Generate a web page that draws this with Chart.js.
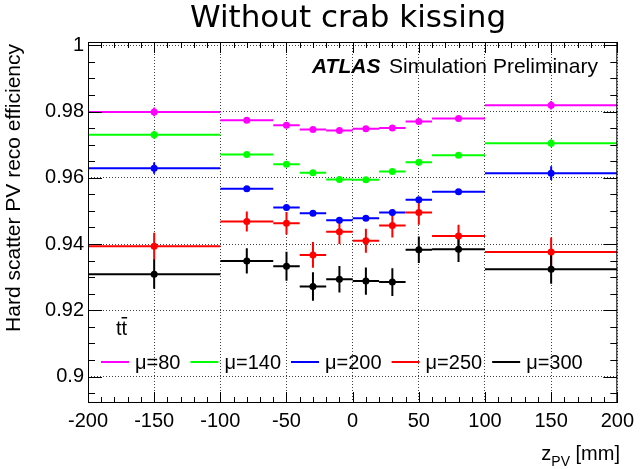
<!DOCTYPE html>
<html lang="en">
<head>
  <meta charset="UTF-8" />
  <title>Without crab kissing</title>
  <script src="https://cdn.jsdelivr.net/npm/chart.js"></script>
  <style>
    body { margin: 0; background: #fff; }
    #wrap { width: 640px; height: 469px; }
  </style>
</head>
<body>
  <div id="wrap"><canvas id="effChart" width="640" height="469"></canvas></div>
  <script>
    // bins in z_PV [mm]
    const binEdges = [-200, -100, -60, -40, -20, 0, 20, 40, 60, 100, 200];
    const binCenters = [-150, -80, -50, -30, -10, 10, 30, 50, 80, 150];

    const mu80 = [0.9799, 0.9774, 0.9759, 0.9746, 0.9743, 0.9748, 0.9750, 0.9770, 0.9779, 0.9819];
    const mu80Err = [0.0013, 0.0005, 0.0005, 0.0005, 0.0005, 0.0005, 0.0005, 0.0005, 0.0005, 0.0013];
    const mu140 = [0.9730, 0.9670, 0.9641, 0.9615, 0.9595, 0.9594, 0.9619, 0.9647, 0.9668, 0.9704];
    const mu140Err = [0.0012, 0.0006, 0.0006, 0.0006, 0.0006, 0.0006, 0.0006, 0.0006, 0.0006, 0.0012];
    const mu200 = [0.9629, 0.9567, 0.9510, 0.9493, 0.9472, 0.9478, 0.9495, 0.9534, 0.9558, 0.9614];
    const mu200Err = [0.0017, 0.0008, 0.0008, 0.0008, 0.0008, 0.0008, 0.0008, 0.0008, 0.0008, 0.0021];
    const mu250 = [0.9393, 0.9468, 0.9463, 0.9367, 0.9437, 0.9410, 0.9456, 0.9495, 0.9424, 0.9376];
    const mu250Err = [0.0041, 0.0030, 0.0034, 0.0039, 0.0037, 0.0036, 0.0036, 0.0037, 0.0034, 0.0044];
    const mu300 = [0.9309, 0.9349, 0.9333, 0.9272, 0.9294, 0.9288, 0.9285, 0.9383, 0.9384, 0.9324];
    const mu300Err = [0.0044, 0.0038, 0.0044, 0.0043, 0.0040, 0.0041, 0.0042, 0.0040, 0.0038, 0.0044];

    const seriesLabels = ["\u03bc=80", "\u03bc=140", "\u03bc=200", "\u03bc=250", "\u03bc=300"];
    const seriesColors = ["#ff00ff", "#00ff00", "#0000ff", "#ff0000", "#000000"];
    const seriesValues = [mu80, mu140, mu200, mu250, mu300];
    const seriesErrors = [mu80Err, mu140Err, mu200Err, mu250Err, mu300Err];

    const xTicks = [-200, -150, -100, -50, 0, 50, 100, 150, 200];
    const yTicks = [0.9, 0.92, 0.94, 0.96, 0.98, 1.0];
    const yTickLabels = ["0.9", "0.92", "0.94", "0.96", "0.98", "1"];

    const FONT = "'Liberation Sans', Arial, sans-serif";

    const datasets = seriesValues.map((vals, i) => ({
      label: seriesLabels[i],
      data: binCenters.map((x, j) => ({ x: x, y: vals[j] })),
      errY: seriesErrors[i],
      backgroundColor: seriesColors[i],
      borderColor: seriesColors[i],
      pointRadius: 3.5,
      pointBorderWidth: 0,
      showLine: false
    }));

    // error bars: horizontal = bin width, vertical = stat error
    const errorBars = {
      id: "errorBars",
      beforeDatasetsDraw(chart) {
        const ctx = chart.ctx, xs = chart.scales.x, ys = chart.scales.y;
        ctx.save();
        ctx.lineWidth = 2;
        chart.data.datasets.forEach(ds => {
          ctx.strokeStyle = ds.borderColor;
          ds.data.forEach((p, j) => {
            const py = ys.getPixelForValue(p.y);
            const px = xs.getPixelForValue(p.x);
            ctx.beginPath();
            ctx.moveTo(xs.getPixelForValue(binEdges[j]), py);
            ctx.lineTo(xs.getPixelForValue(binEdges[j + 1]), py);
            ctx.moveTo(px, ys.getPixelForValue(p.y - ds.errY[j]));
            ctx.lineTo(px, ys.getPixelForValue(p.y + ds.errY[j]));
            ctx.stroke();
          });
        });
        ctx.restore();
      }
    };

    // ROOT style frame, inner ticks and the text
    const decorations = {
      id: "decorations",
      afterDraw(chart) {
        const ctx = chart.ctx, a = chart.chartArea;
        const xs = chart.scales.x, ys = chart.scales.y;
        ctx.save();
        ctx.strokeStyle = "#000";
        ctx.lineWidth = 1;
        ctx.strokeRect(a.left + 0.5, a.top + 0.5, a.right - a.left - 1, a.bottom - a.top - 1);

        ctx.beginPath();
        for (let v = -200; v <= 200; v += 10) {
          const px = Math.round(xs.getPixelForValue(v)) + 0.5;
          const len = v % 50 === 0 ? 11 : 6;
          ctx.moveTo(px, a.bottom); ctx.lineTo(px, a.bottom - len);
          ctx.moveTo(px, a.top); ctx.lineTo(px, a.top + len);
        }
        for (let k = 179; k <= 200; k++) {
          const v = k * 0.005;
          if (v < ys.min || v > ys.max) continue;
          const py = Math.round(ys.getPixelForValue(v)) + 0.5;
          const len = k % 4 === 0 ? 14 : 7;
          ctx.moveTo(a.left, py); ctx.lineTo(a.left + len, py);
          ctx.moveTo(a.right, py); ctx.lineTo(a.right - len, py);
        }
        ctx.stroke();

        ctx.fillStyle = "#000";
        // title
        ctx.font = "31px 'DejaVu Sans', sans-serif";
        ctx.textAlign = "center";
        ctx.textBaseline = "alphabetic";
        ctx.fillText("Without crab kissing", 348, 27);

        // ATLAS label
        ctx.textAlign = "left";
        ctx.font = "italic bold 21px " + FONT;
        ctx.fillText("ATLAS", 312, 73);
        ctx.font = "21px " + FONT;
        ctx.fillText("Simulation Preliminary", 389, 73);

        // process label t tbar
        ctx.font = "20px " + FONT;
        ctx.fillText("tt", 116, 335);
        const tw = ctx.measureText("t").width;
        ctx.fillRect(116 + tw, 317, tw, 1.5);

        // legend
        let lx = 101;
        const ly = 362;
        seriesLabels.forEach((lab, i) => {
          ctx.strokeStyle = seriesColors[i];
          ctx.lineWidth = 2;
          ctx.beginPath();
          ctx.moveTo(lx, ly); ctx.lineTo(lx + 28, ly);
          ctx.stroke();
          ctx.fillStyle = "#000";
          ctx.fillText(lab, lx + 34, 369);
          lx += 34 + ctx.measureText(lab).width + 10;
        });

        // axis titles
        ctx.font = "20px " + FONT;
        ctx.textAlign = "right";
        const tail = " [mm]";
        const tailW = ctx.measureText(tail).width;
        ctx.fillText(tail, 620, 460);
        ctx.font = "14px " + FONT;
        const subW = ctx.measureText("PV").width;
        ctx.fillText("PV", 620 - tailW, 466);
        ctx.font = "20px " + FONT;
        ctx.fillText("z", 620 - tailW - subW, 460);

        ctx.translate(20, 44);
        ctx.rotate(-Math.PI / 2);
        ctx.textAlign = "right";
        ctx.font = "21px " + FONT;
        ctx.fillText("Hard scatter PV reco efficiency", 0, 0);
        ctx.restore();
      }
    };

    new Chart(document.getElementById("effChart"), {
      type: "scatter",
      data: { datasets: datasets },
      plugins: [errorBars, decorations],
      options: {
        responsive: false,
        animation: false,
        layout: { padding: { top: 42, right: 20, left: 0, bottom: 0 } },
        plugins: { legend: { display: false }, tooltip: { enabled: false } },
        scales: {
          x: {
            type: "linear",
            min: -200,
            max: 200,
            afterFit(s) { s.height = 66; },
            afterBuildTicks(s) { s.ticks = xTicks.map(v => ({ value: v })); },
            ticks: {
              padding: 6,
              color: "#000",
              font: { family: FONT, size: 20 },
              maxRotation: 0,
              autoSkip: false
            },
            grid: { color: "rgba(0,0,0,0.75)", lineWidth: 1, drawTicks: false },
            border: { display: false, dash: [1, 2] }
          },
          y: {
            type: "linear",
            min: 0.892,
            max: 1.001,
            afterFit(s) { s.width = 88; },
            afterBuildTicks(s) { s.ticks = yTicks.map(v => ({ value: v })); },
            ticks: {
              padding: 4,
              color: "#000",
              font: { family: FONT, size: 20 },
              callback: (v) => yTickLabels[yTicks.findIndex(t => Math.abs(t - v) < 1e-6)]
            },
            grid: { color: "rgba(0,0,0,0.75)", lineWidth: 1, drawTicks: false },
            border: { display: false, dash: [1, 2] }
          }
        }
      }
    });
  </script>
</body>
</html>
